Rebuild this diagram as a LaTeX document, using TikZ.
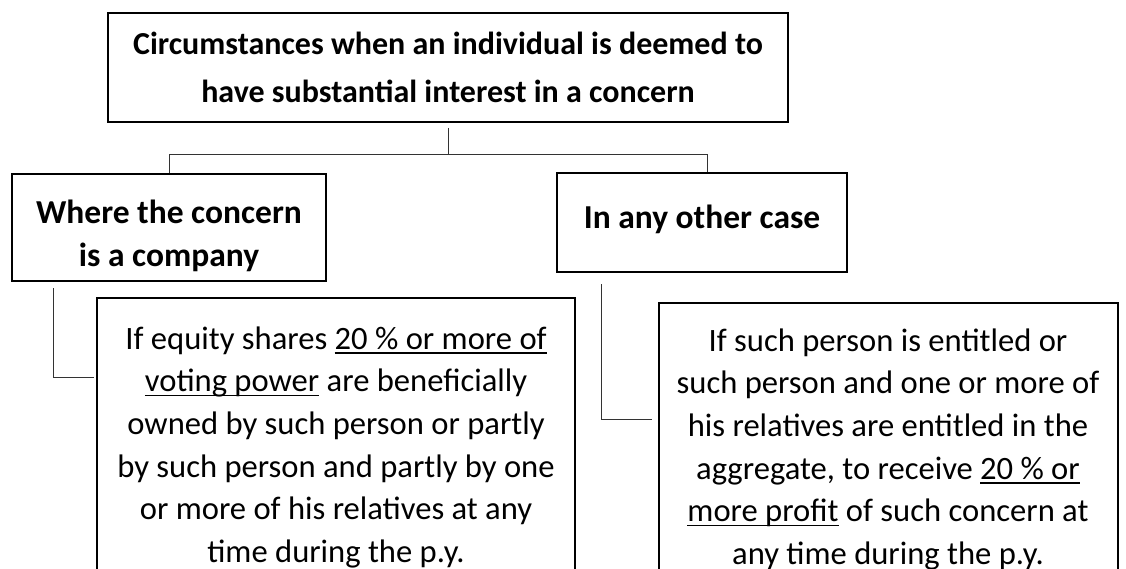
\documentclass[tikz,border=0pt]{standalone}
\usepackage{fontspec}
\setmainfont{Carlito}
\usetikzlibrary{calc}
% underline at a fixed distance below the baseline
\newcommand\ultext[1]{\setbox0\hbox{#1}\rlap{\rule[-4.5pt]{\wd0}{1.3pt}}\box0\relax}
\begin{document}
\begin{tikzpicture}[x=1pt, y=-1pt,
  box/.style={draw=black, line width=2pt, inner sep=0pt},
  headtext/.style={font=\fontsize{32}{48}\bfseries\selectfont, align=center},
  casetext/.style={font=\fontsize{33.5}{43}\bfseries\selectfont, align=center, inner sep=0pt},
  bodytext/.style={font=\fontsize{32.6}{42.6}\selectfont, align=center, inner sep=0pt, anchor=north},
  link/.style={draw=black!80, line width=0.9pt}]
\useasboundingbox (0,0) rectangle (1126,569);
\clip (0,0) rectangle (1126,569);
\fill[white] (0,0) rectangle (1126,569);

% heading
\node[box, headtext, minimum width=680pt, minimum height=109pt] (root) at (448,67.5)
  {Circumstances when an individual is deemed to\\have substantial interest in a concern};

% the two cases
\node[box, minimum width=314pt, minimum height=107pt] (company) at (169,227.5) {};
\node[casetext] (companytext) at (169,236) {Where the concern\\is a company};
\node[box, minimum width=290pt, minimum height=99pt] (other) at (702,222.5) {};
\node[casetext] (othertext) at (702,219.5) {In any other case};

% conditions (boxes run on below the page edge)
\node[box, minimum width=478pt, minimum height=322pt] (eq) at (336,459) {};
\node[bodytext] (eqtext) at (336,319) {\rule{0pt}{30pt}If equity shares \ultext{20 \% or more of}\\
  \ultext{voting power} are beneficially\\
  owned by such person or partly\\
  by such person and partly by one\\
  or more of his relatives at any\\
  time during the p.y.};

\node[box, minimum width=459pt, minimum height=317pt] (pr) at (888.5,461.5) {};
\node[bodytext] (prtext) at (888,321) {\rule{0pt}{30pt}If such person is entitled or\\
  such person and one or more of\\
  his relatives are entitled in the\\
  aggregate, to receive \ultext{20 \% or}\\
  \ultext{more profit} of such concern at\\
  any time during the p.y.};

% connectors
\coordinate (bus) at (448,154);
\draw[link] ($(root.south)+(0,5)$) -- (bus);
\draw[link] (company.north) -- (company.north |- bus) -- ($(other.north |- bus)+(5,0)$) -- ($(other.north)+(5,0)$);
\coordinate (eqin) at ($(eq.north west)+(-2,80)$);
\draw[link] ($(company.south west)+(42,6)$) |- (eqin);
\coordinate (prin) at ($(pr.north west)+(-6,117)$);
\draw[link] ($(other.south west)+(45,11)$) |- (prin);
\end{tikzpicture}
\end{document}
